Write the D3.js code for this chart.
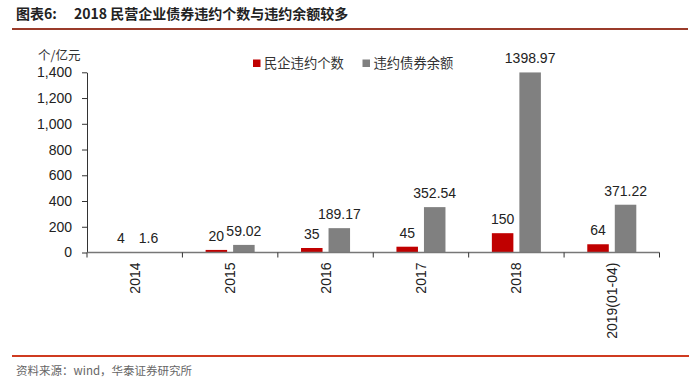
<!DOCTYPE html>
<html>
<head>
<meta charset="utf-8">
<script src="https://cdn.jsdelivr.net/npm/d3@7"></script>
<style>
  html, body { margin: 0; padding: 0; background: #fff; }
  svg { display: block; }
</style>
</head>
<body>
<svg id="chart" width="700" height="383"></svg>
<script>
const categories = ["2014", "2015", "2016", "2017", "2018", "2019(01-04)"];
const seriesNames = ["民企违约个数", "违约债券余额"];
const defaultCounts = [4, 20, 35, 45, 150, 64];
const defaultAmounts = [1.6, 59.02, 189.17, 352.54, 1398.97, 371.22];
const amountLabels = ["1.6", "59.02", "189.17", "352.54", "1398.97", "371.22"];
const yTicks = [0, 200, 400, 600, 800, 1000, 1200, 1400];
const colors = ["#c00000", "#808080"];

const svg = d3.select("#chart");
const cjk = "'Noto Sans CJK SC', 'Noto Sans', sans-serif";
const latin = "'Liberation Sans', Arial, sans-serif";

const plotLeft = 87, plotRight = 659.5, plotTop = 72.3, plotBottom = 252.5;

// Title
svg.append("text").attr("x", 16).attr("y", 19)
  .attr("font-family", cjk).attr("font-size", 14).attr("font-weight", "bold")
  .attr("fill", "#222")
  .text("图表6:");
svg.append("text").attr("x", 74).attr("y", 19)
  .attr("font-family", cjk).attr("font-size", 14).attr("font-weight", "bold")
  .attr("fill", "#222")
  .text("2018 民营企业债券违约个数与违约余额较多");
svg.append("line").attr("x1", 12).attr("x2", 688).attr("y1", 29).attr("y2", 29)
  .attr("stroke", "#9a3b2a").attr("stroke-width", 2);

// Scales
const x = d3.scaleBand().domain(categories).range([plotLeft, plotRight]).paddingInner(0).paddingOuter(0);
const xs = d3.scaleBand().domain([0, 1]).range([0, x.bandwidth()]).paddingInner(0.218).paddingOuter(0.843);
const y = d3.scaleLinear().domain([0, 1400]).range([plotBottom, plotTop]);

// Y axis
const yAxis = svg.append("g").attr("transform", `translate(${plotLeft},0)`)
  .call(d3.axisLeft(y).tickValues(yTicks).tickFormat(d3.format(",")).tickSize(5).tickPadding(10).tickSizeOuter(0));
yAxis.select(".domain").attr("stroke", "#333");
yAxis.selectAll(".tick line").attr("stroke", "#333");
yAxis.selectAll("text").attr("font-family", latin).attr("font-size", 14).attr("fill", "#222");

svg.append("text").attr("x", 38).attr("y", 60)
  .attr("font-family", cjk).attr("font-size", 12.5).attr("fill", "#333")
  .text("个/亿元");

// Bars
const data = categories.map((c, i) => ({ c, vals: [defaultCounts[i], defaultAmounts[i]], labels: [String(defaultCounts[i]), amountLabels[i]] }));
const groups = svg.append("g").selectAll("g").data(data).join("g")
  .attr("transform", d => `translate(${x(d.c)},0)`);
groups.selectAll("rect").data(d => d.vals.map((v, k) => ({ v, k })))
  .join("rect")
  .attr("x", d => xs(d.k)).attr("width", xs.bandwidth())
  .attr("y", d => y(d.v)).attr("height", d => y(0) - y(d.v))
  .attr("fill", d => colors[d.k]);
groups.selectAll("text.val").data(d => d.vals.map((v, k) => ({ v, k, label: d.labels[k] })))
  .join("text").attr("class", "val")
  .attr("x", d => xs(d.k) + xs.bandwidth() / 2)
  .attr("y", d => y(d.v) - 9)
  .attr("text-anchor", "middle")
  .attr("font-family", latin).attr("font-size", 14).attr("fill", "#222")
  .text(d => d.label);

// X axis
const xAxisG = svg.append("g").attr("transform", `translate(0,${plotBottom})`);
xAxisG.append("line").attr("x1", plotLeft).attr("x2", plotRight).attr("y1", 0).attr("y2", 0)
  .attr("stroke", "#777").attr("stroke-width", 1.5);
const boundaries = categories.map(c => x(c)).concat([x(categories[categories.length - 1]) + x.bandwidth()]);
xAxisG.selectAll("line.tk").data(boundaries).join("line").attr("class", "tk")
  .attr("x1", d => d).attr("x2", d => d).attr("y1", 0).attr("y2", 5)
  .attr("stroke", "#333");
xAxisG.selectAll("text").data(categories).join("text")
  .attr("transform", d => `translate(${x(d) + x.bandwidth() / 2 + 5},10) rotate(-90)`)
  .attr("text-anchor", "end")
  .attr("font-family", latin).attr("font-size", 14).attr("fill", "#222")
  .text(d => d);

// Legend
const legend = svg.append("g");
const legendX = [253, 362.5];
seriesNames.forEach((name, k) => {
  legend.append("rect").attr("x", legendX[k]).attr("y", 59.5).attr("width", 7.5).attr("height", 7.5).attr("fill", colors[k]);
  legend.append("text").attr("x", legendX[k] + 11).attr("y", 68)
    .attr("font-family", cjk).attr("font-size", 13.3).attr("fill", "#333")
    .text(name);
});

// Bottom rule and source
svg.append("line").attr("x1", 12).attr("x2", 689).attr("y1", 356).attr("y2", 356)
  .attr("stroke", "#cf3b20").attr("stroke-width", 2);
svg.append("text").attr("x", 16).attr("y", 375)
  .attr("font-family", cjk).attr("font-size", 11.5).attr("fill", "#666")
  .text("资料来源：wind，华泰证券研究所");
</script>
</body>
</html>
